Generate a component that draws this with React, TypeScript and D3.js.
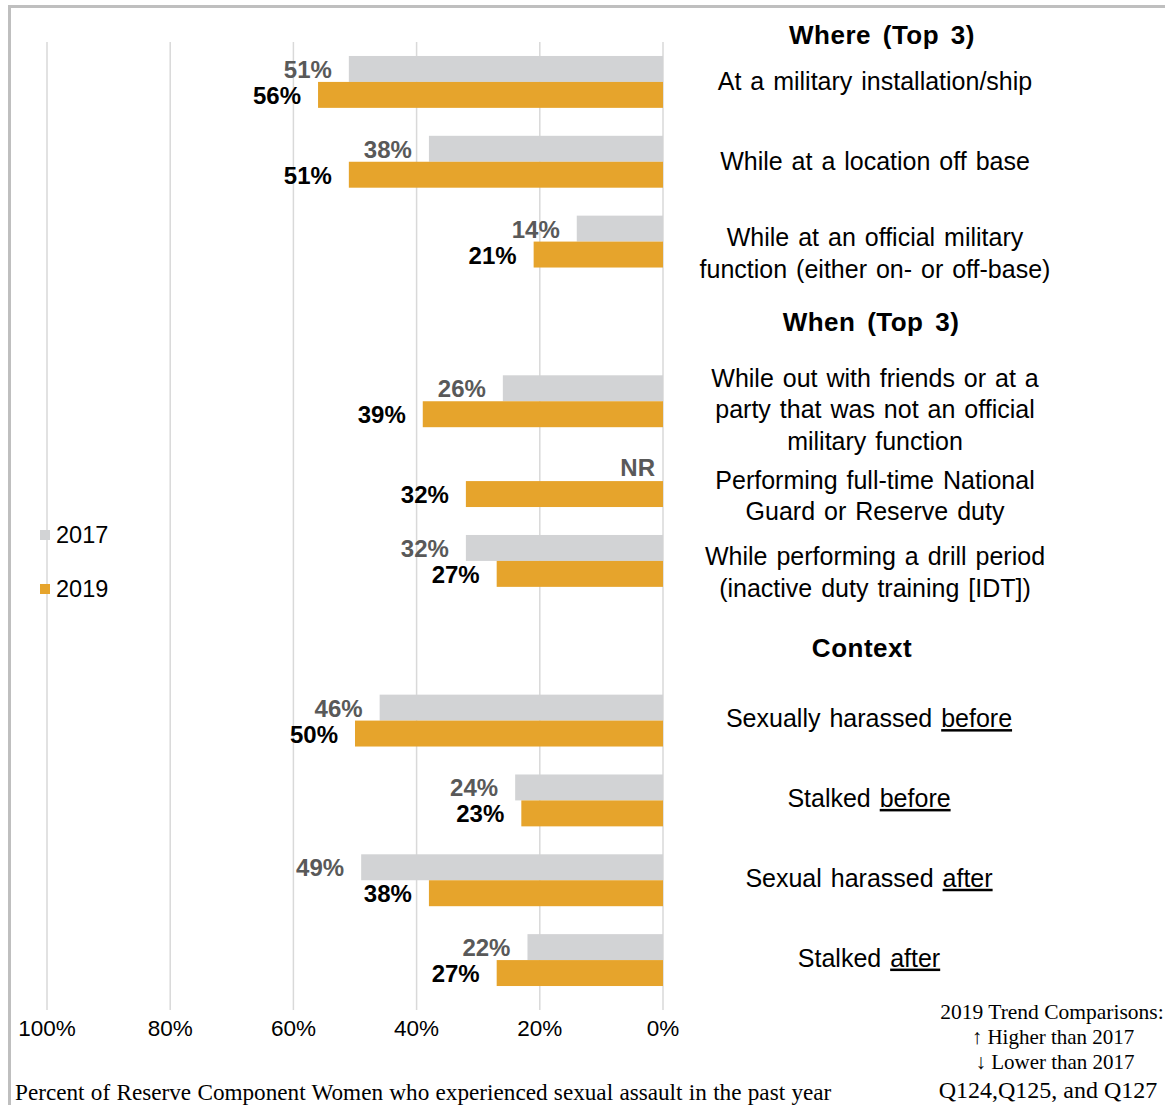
import React from "react";
import * as d3 from "d3";

const rowKeys = ["r1", "r2", "r3", "hWhen", "r4", "r5", "r6", "hContext", "r7", "r8", "r9", "r10"];
const categories = ["r1", "r2", "r3", "r4", "r5", "r6", "r7", "r8", "r9", "r10"];
const series = ["2017", "2019"];
const values2017: (number | null)[] = [51, 38, 14, 26, null, 32, 46, 24, 49, 22];
const values2019: (number | null)[] = [56, 51, 21, 39, 32, 27, 50, 23, 38, 27];
const labelLines: string[][] = [
  ["At a military installation/ship"],
  ["While at a location off base"],
  ["While at an official military", "function (either on- or off-base)"],
  ["While out with friends or at a", "party that was not an official", "military function"],
  ["Performing full-time National", "Guard or Reserve duty"],
  ["While performing a drill period", "(inactive duty training [IDT])"],
  ["Sexually harassed |before"],
  ["Stalked |before"],
  ["Sexual harassed |after"],
  ["Stalked |after"],
];
const headings = [
  { key: "top", text: "Where (Top 3)" },
  { key: "hWhen", text: "When (Top 3)" },
  { key: "hContext", text: "Context" },
];
const ticks = [100, 80, 60, 40, 20, 0];
const colors: Record<string, string> = { "2017": "#D2D3D5", "2019": "#E6A42C" };
const labelColors: Record<string, string> = { "2017": "#595959", "2019": "#000000" };

const SANS = "'Liberation Sans', Arial, sans-serif";
const SERIF = "'Liberation Serif', 'Times New Roman', serif";

export default function App() {
  const W = 1165, H = 1105;
  const x = d3.scaleLinear().domain([100, 0]).range([47, 663]);
  const y = d3.scaleBand().domain(rowKeys).range([42, 1000]).paddingInner(0.35).paddingOuter(0.175);
  const ys = d3.scaleBand().domain(series).range([0, y.bandwidth()]).padding(0);
  const labelX = 875;

  const data = categories.map((c, i) => ({ c, v: { "2017": values2017[i], "2019": values2019[i] } as Record<string, number | null> }));

  return (
    <svg width={W} height={H} style={{ position: "absolute", left: 0, top: 0, background: "#fff" }}>
      <rect x={9.5} y={6.5} width={W + 20} height={H + 20} fill="#fff" stroke="#BFBFBF" strokeWidth={3} />
      {ticks.map((t) => (
        <line key={t} x1={x(t)} x2={x(t)} y1={42} y2={1010} stroke="#D9D9D9" strokeWidth={1.5} />
      ))}
      {ticks.map((t) => (
        <text key={"t" + t} x={x(t)} y={1036} textAnchor="middle" fontFamily={SANS} fontSize={22.5} fill="#000">
          {t + "%"}
        </text>
      ))}
      {data.map((d) => (
        <g key={d.c} transform={`translate(0,${y(d.c)})`}>
          {series.map((s) => {
            const v = d.v[s];
            const yy = ys(s)!;
            if (v == null) {
              return (
                <text key={s} x={x(0) - 8} y={yy + ys.bandwidth() / 2 + 8} textAnchor="end" fontFamily={SANS} fontWeight="bold" fontSize={24} fill={labelColors[s]}>
                  NR
                </text>
              );
            }
            return (
              <g key={s}>
                <rect x={x(v)} y={yy} width={x(0) - x(v)} height={ys.bandwidth()} fill={colors[s]} />
                <text x={x(v) - 17} y={yy + ys.bandwidth() / 2 + 9} textAnchor="end" fontFamily={SANS} fontWeight="bold" fontSize={24} fill={labelColors[s]}>
                  {v + "%"}
                </text>
              </g>
            );
          })}
        </g>
      ))}
      {data.map((d, i) => {
        const lines = labelLines[i];
        const n = lines.length;
        const cy = y(d.c)! + y.bandwidth() / 2;
        const start = n === 3 ? -23 : n === 2 ? (i === 4 ? -1 : -4) : i >= 6 ? -2 : 0;
        return (
          <text key={"l" + d.c} textAnchor="middle" fontFamily={SANS} fontSize={25} wordSpacing={2} fill="#000">
            {lines.map((ln, j) => {
              const parts = ln.split("|");
              return (
                <tspan key={j} x={i >= 6 ? labelX - 6 : labelX} y={cy + start + j * 31.5 + 8.5}>
                  {parts[0]}
                  {parts[1] ? <tspan style={{ textDecoration: "underline" }}>{parts[1]}</tspan> : null}
                </tspan>
              );
            })}
          </text>
        );
      })}
      {headings.map((h) => {
        const cy = h.key === "top" ? 35 : y(h.key)! + y.bandwidth() / 2 + (h.key === "hContext" ? 7 : 1);
        const cx = h.key === "top" ? 882 : h.key === "hWhen" ? 871 : 862;
        return (
          <text key={h.key} x={cx} y={cy + 9} textAnchor="middle" fontFamily={SANS} fontWeight="bold" fontSize={26} letterSpacing={0.5} wordSpacing={4} fill="#000">
            {h.text}
          </text>
        );
      })}
      {series.map((s, i) => (
        <g key={"lg" + s} transform={`translate(40,${530 + i * 54})`}>
          <rect x={0} y={0} width={10} height={10} fill={colors[s]} />
          <text x={16} y={13} fontFamily={SANS} fontSize={23.5} fill="#000">{s}</text>
        </g>
      ))}
      <text x={15} y={1100} fontFamily={SERIF} fontSize={23.2} wordSpacing={0.5} fill="#000">
        Percent of Reserve Component Women who experienced sexual assault in the past year
      </text>
      <g fontFamily={SERIF} fill="#000" textAnchor="middle">
        <text x={1052} y={1019} fontSize={21.5}>2019 Trend Comparisons:</text>
        <text x={1053} y={1044} fontSize={21}>↑ Higher than 2017</text>
        <text x={1055} y={1069} fontSize={21}>↓ Lower than 2017</text>
        <text x={1048} y={1098} fontSize={24}>Q124,Q125, and Q127</text>
      </g>
    </svg>
  );
}
